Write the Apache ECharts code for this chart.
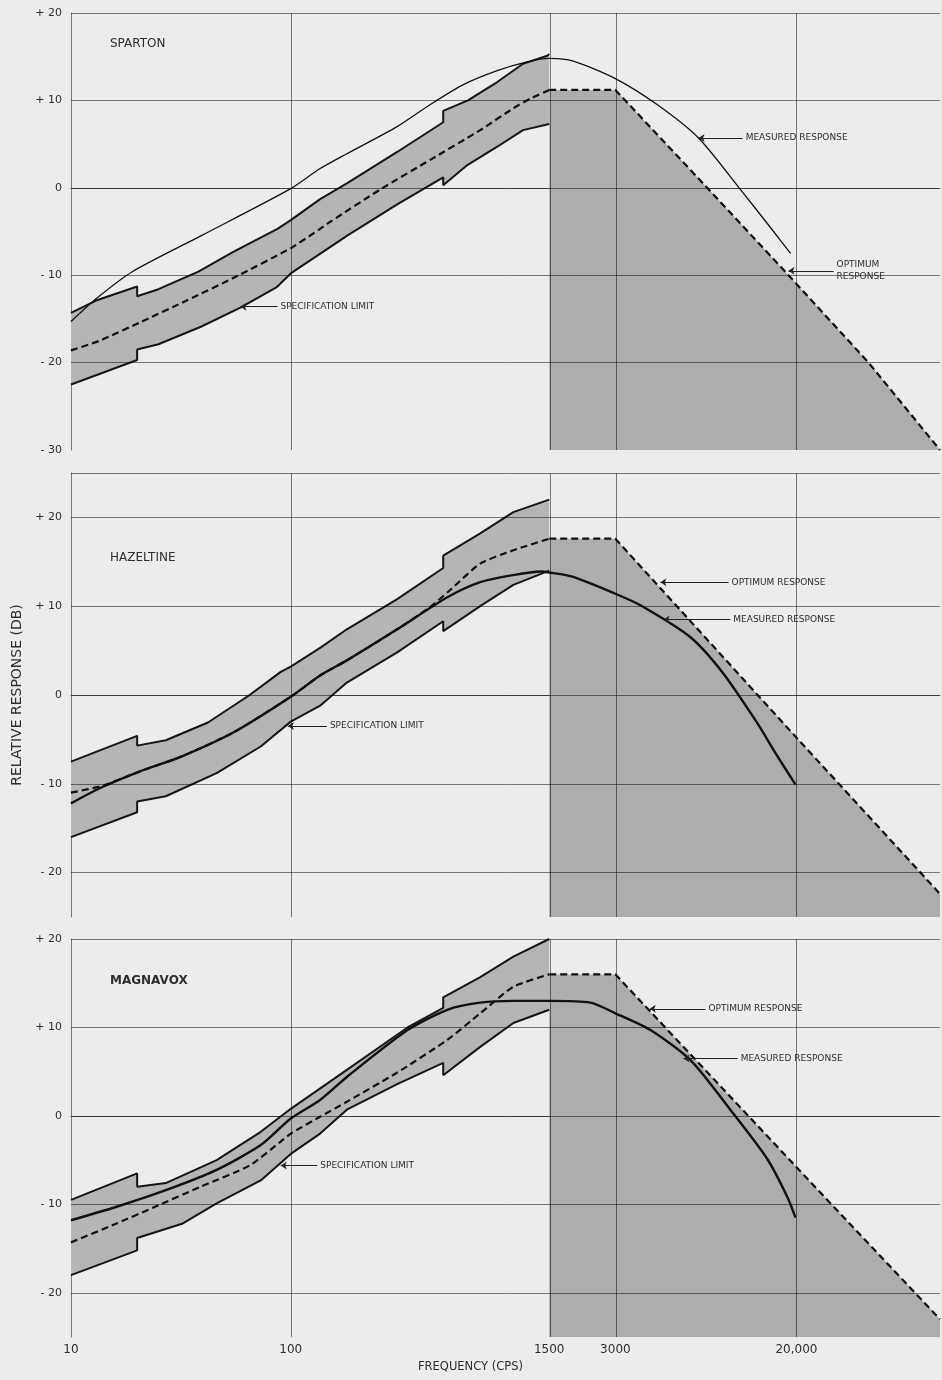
<!DOCTYPE html>
<html>
<head>
<meta charset="utf-8">
<title>Relative response vs frequency</title>
<script src="https://cdn.jsdelivr.net/npm/echarts@6/dist/echarts.min.js"></script>
<style>
  html, body { margin: 0; padding: 0; background: #ececec; }
  #main { width: 942px; height: 1380px; }
</style>
</head>
<body>
<div id="main"></div>
<script>
// frequency axis (cps, log scale)
var xMaxFreq = 90000;
var xGridFreq = [100, 1500, 3000, 20000];
var xLabelFreq = [10, 100, 1500, 3000, 20000];
var xLabelText = ['10', '100', '1500', '3000', '20,000'];

// horizontal grid lines (dB) per panel
var spartonLines = [-20, -10, 0, 10, 20];
var hazeltineLines = [-20, -10, 0, 10, 20, 25];
var magnavoxLines = [-20, -10, 0, 10, 20];

// [frequency, dB]  -- SPARTON
var spartonUpper = [[10, -14.3], [13, -12.9], [20, -11.3], [20, -12.4], [25, -11.6], [38, -9.6], [55, -7.3], [87, -4.7], [100, -3.7], [136, -1.3], [180, 0.5], [305, 4.1], [494, 7.5], [494, 8.8], [640, 10.0], [870, 12.1], [1140, 14.2], [1470, 15.1], [1500, 15.3]];
var spartonLower = [[10, -22.5], [20, -19.7], [20, -18.5], [25, -17.9], [39, -15.9], [59, -13.7], [86, -11.4], [100, -9.8], [180, -5.5], [305, -1.9], [494, 1.2], [494, 0.3], [636, 2.6], [870, 4.7], [1140, 6.6], [1500, 7.3]];
var spartonOptimum = [[10, -18.6], [13.5, -17.5], [20.6, -15.4], [33.6, -12.9], [55, -10.3], [100, -6.9], [136, -4.7], [151, -3.9], [255, -0.2], [431, 3.2], [728, 6.6], [1030, 9.1], [1230, 10.2], [1500, 11.2], [3000, 11.2], [7850, 0], [18400, -10], [42560, -20], [90000, -30]];
var spartonMeasured = [[10, -15.3], [13, -12.7], [19, -9.6], [39, -5.5], [100, -0.1], [136, 2.2], [180, 3.9], [305, 7.0], [430, 9.5], [610, 11.8], [870, 13.4], [1190, 14.4], [1500, 14.8], [1930, 14.5], [3000, 12.5], [4660, 9.5], [7170, 5.7], [11130, -0.2], [15740, -5.0], [18800, -7.5]];

// HAZELTINE
var hazeltineUpper = [[10, -7.5], [20, -4.6], [20, -5.7], [27, -5.1], [42, -3.1], [65, 0], [90, 2.6], [100, 3.2], [136, 5.3], [180, 7.4], [305, 10.8], [494, 14.3], [494, 15.7], [728, 18.2], [1030, 20.6], [1500, 22.0]];
var hazeltineLower = [[10, -16.0], [20, -13.2], [20, -12.0], [27, -11.4], [46, -8.8], [73, -5.8], [100, -3.0], [136, -1.2], [180, 1.4], [305, 4.8], [494, 8.3], [494, 7.2], [728, 10.0], [1030, 12.4], [1500, 14.0]];
var hazeltineOptimum = [[10, -11.0], [14, -10.2], [20.6, -8.6], [32, -6.9], [55, -4.2], [100, -0.2], [136, 2.2], [180, 3.9], [305, 7.4], [430, 9.9], [530, 11.8], [728, 14.8], [1030, 16.3], [1500, 17.6], [3000, 17.6], [20000, -4.8], [90000, -22.4]];
var hazeltineMeasured = [[10, -12.2], [13.5, -10.5], [20.6, -8.6], [32, -6.9], [55, -4.2], [100, -0.2], [136, 2.2], [180, 3.9], [305, 7.4], [516, 11.0], [728, 12.7], [1030, 13.5], [1370, 13.9], [1500, 13.8], [1930, 13.3], [3000, 11.4], [3900, 10.1], [6590, 6.5], [9310, 2.4], [13300, -3.2], [15740, -6.2], [19800, -10.1]];

// MAGNAVOX
var magnavoxUpper = [[10, -9.5], [20, -6.5], [20, -8.0], [27, -7.6], [46, -5.0], [73, -1.8], [100, 0.8], [180, 5.2], [340, 10.0], [494, 12.2], [494, 13.4], [728, 15.7], [1030, 18.0], [1500, 20.0]];
var magnavoxLower = [[10, -18.0], [20, -15.2], [20, -13.8], [32, -12.2], [46, -9.9], [73, -7.3], [100, -4.3], [136, -2.0], [180, 0.7], [305, 3.6], [494, 6.0], [494, 4.6], [728, 7.8], [1030, 10.5], [1500, 12.0]];
var magnavoxOptimum = [[10, -14.3], [16, -12.2], [24, -10.3], [39, -8.0], [65, -5.6], [90, -2.9], [100, -2.0], [136, -0.1], [180, 1.6], [305, 4.9], [516, 8.6], [728, 11.6], [1030, 14.6], [1500, 16.0], [3000, 16.0], [28600, -9.9], [90000, -23.0]];
var magnavoxMeasured = [[10, -11.8], [16, -10.3], [27, -8.4], [46, -6.1], [73, -3.3], [100, -0.3], [136, 1.8], [180, 4.4], [340, 9.7], [516, 12.0], [728, 12.8], [1030, 13.0], [1500, 13.0], [2310, 12.8], [3000, 11.6], [4330, 9.7], [6590, 6.3], [10000, 0.7], [14760, -4.9], [18200, -9.2], [19800, -11.5]];

// callouts: arrow tip on the curve, end of leader, text after it
var spartonNotes = [
    { text: 'MEASURED RESPONSE', tip: [7170, 5.7], end: [11380, 5.7] },
    { text: 'OPTIMUM\nRESPONSE', tip: [18400, -9.5], end: [29500, -9.5] },
    { text: 'SPECIFICATION LIMIT', tip: [59, -13.6], end: [87, -13.6] }
];
var hazeltineNotes = [
    { text: 'OPTIMUM RESPONSE', tip: [4810, 12.7], end: [9820, 12.7] },
    { text: 'MEASURED RESPONSE', tip: [4970, 8.5], end: [10000, 8.5] },
    { text: 'SPECIFICATION LIMIT', tip: [97, -3.5], end: [146, -3.5] }
];
var magnavoxNotes = [
    { text: 'OPTIMUM RESPONSE', tip: [4300, 12.1], end: [7710, 12.1] },
    { text: 'MEASURED RESPONSE', tip: [6120, 6.5], end: [10800, 6.5] },
    { text: 'SPECIFICATION LIMIT', tip: [90, -5.6], end: [132, -5.6] }
];

var FONT = 'DejaVu Sans';
var TEXT = '#2e2e2e';
var GRID_LINE = 'rgba(0,0,0,0.5)';
var BAND_FILL = '#b5b5b5';
var AREA_FILL = '#adadad';

var panels = [
    { name: 'SPARTON', nameTop: 38, top: 13, height: 437, yMin: -30, yMax: 20, yStep: 10,
      hLines: spartonLines, upper: spartonUpper, lower: spartonLower, optimum: spartonOptimum,
      measured: spartonMeasured, measuredWidth: 1.3, notes: spartonNotes },
    { name: 'HAZELTINE', nameTop: 552, top: 473, height: 444, yMin: -25, yMax: 25, yStep: 5,
      hLines: hazeltineLines, upper: hazeltineUpper, lower: hazeltineLower, optimum: hazeltineOptimum,
      measured: hazeltineMeasured, measuredWidth: 2.4, notes: hazeltineNotes, yName: 'RELATIVE RESPONSE (DB)' },
    { name: 'MAGNAVOX', nameTop: 975, top: 939, height: 398, yMin: -25, yMax: 20, yStep: 5,
      hLines: magnavoxLines, upper: magnavoxUpper, lower: magnavoxLower, optimum: magnavoxOptimum,
      measured: magnavoxMeasured, measuredWidth: 2.4, notes: magnavoxNotes, bold: true, last: true }
];

function lg(d) {
    return [Math.log10(d[0]), d[1]];
}

function xLabel(v) {
    for (var k = 0; k < xLabelFreq.length; k++) {
        if (Math.abs(Math.log10(xLabelFreq[k]) - v) < 1e-6) return xLabelText[k];
    }
    return '';
}

function yLabel(v) {
    if (v % 10 !== 0 || v > 20) return '';
    if (v > 0) return '+ ' + v;
    if (v < 0) return '- ' + (-v);
    return '0';
}

function lineSeries(i, data, z, style, smooth) {
    return {
        type: 'line',
        xAxisIndex: i,
        yAxisIndex: i,
        z: z,
        silent: true,
        symbol: 'none',
        smooth: smooth || false,
        data: data.map(lg),
        lineStyle: style
    };
}

var option = {
    backgroundColor: '#ececec',
    animation: false,
    textStyle: { fontFamily: FONT },
    grid: [],
    xAxis: [],
    yAxis: [],
    series: [],
    graphic: []
};

panels.forEach(function (p, i) {
    option.grid.push({ left: 71, right: 2, top: p.top, height: p.height });

    option.xAxis.push({
        type: 'value',
        gridIndex: i,
        min: 1,
        max: Math.log10(xMaxFreq),
        axisLine: { show: true, lineStyle: { color: '#7a7a7a', width: 1 } },
        axisTick: { show: false },
        splitLine: { show: false },
        axisLabel: p.last ? {
            show: true,
            customValues: xLabelFreq.map(function (f) { return Math.log10(f); }),
            formatter: xLabel,
            color: TEXT,
            fontSize: 12,
            fontFamily: FONT,
            margin: 7
        } : { show: false }
    });

    option.yAxis.push({
        type: 'value',
        gridIndex: i,
        min: p.yMin,
        max: p.yMax,
        interval: p.yStep,
        axisLine: { show: true, lineStyle: { color: '#7a7a7a', width: 1 } },
        axisTick: { show: false },
        splitLine: { show: false },
        axisLabel: { formatter: yLabel, color: TEXT, fontSize: 11, fontFamily: FONT, margin: 9 },
        name: p.yName || '',
        nameLocation: 'middle',
        nameGap: 46,
        nameRotate: 90,
        nameTextStyle: { fontSize: 14, color: TEXT, fontFamily: FONT }
    });

    // shaded specification band
    option.series.push({
        type: 'custom',
        xAxisIndex: i,
        yAxisIndex: i,
        z: 1,
        silent: true,
        data: [[1, 0]],
        renderItem: function (params, api) {
            var pts = p.upper.concat(p.lower.slice().reverse()).map(function (d) {
                return api.coord(lg(d));
            });
            return { type: 'polygon', shape: { points: pts }, style: { fill: BAND_FILL } };
        }
    });

    // shaded region under the optimum curve above 1500 cps
    var highPart = p.optimum.filter(function (d) { return d[0] >= 1500; });
    var lowPart = p.optimum.filter(function (d) { return d[0] <= 1500; });
    option.series.push({
        type: 'line',
        xAxisIndex: i,
        yAxisIndex: i,
        z: 1,
        silent: true,
        symbol: 'none',
        data: highPart.map(lg),
        lineStyle: { width: 0 },
        areaStyle: { color: AREA_FILL, opacity: 1, origin: 'start' }
    });

    // grid lines drawn over the shading
    option.series.push({
        type: 'line',
        xAxisIndex: i,
        yAxisIndex: i,
        z: 2,
        silent: true,
        data: [],
        markLine: {
            silent: true,
            symbol: 'none',
            animation: false,
            label: { show: false },
            lineStyle: { color: GRID_LINE, width: 1, type: 'solid' },
            data: xGridFreq.map(function (f) { return { xAxis: Math.log10(f) }; })
                .concat(p.hLines.map(function (v) { return { yAxis: v }; }))
        }
    });

    // band outlines
    option.series.push(lineSeries(i, p.upper, 3, { color: '#151515', width: 2 }));
    option.series.push(lineSeries(i, p.lower, 3, { color: '#151515', width: 2 }));

    // optimum response: curved part below 1500, straight segments above
    var dash = { color: '#111', width: 2.2, type: [7, 4] };
    option.series.push(lineSeries(i, lowPart, 4, dash, 0.2));
    option.series.push(lineSeries(i, highPart, 4, dash));

    // measured response
    option.series.push(lineSeries(i, p.measured, 4, { color: '#111', width: p.measuredWidth }, 0.25));

    // callouts
    option.series.push({
        type: 'line',
        xAxisIndex: i,
        yAxisIndex: i,
        z: 5,
        silent: true,
        data: [],
        markLine: {
            silent: true,
            animation: false,
            symbol: ['arrow', 'none'],
            symbolSize: 6,
            lineStyle: { color: '#222', width: 1, type: 'solid' },
            label: {
                show: true,
                position: 'end',
                distance: 3,
                formatter: '{b}',
                color: TEXT,
                fontSize: 9,
                fontFamily: FONT,
                lineHeight: 12
            },
            data: p.notes.map(function (n) {
                var first = { name: n.text, coord: lg(n.tip) };
                if (n.text.indexOf('\n') >= 0) {
                    first.label = { padding: [12, 0, 0, 0] };
                }
                return [first, { coord: lg(n.end) }];
            })
        }
    });

    option.graphic.push({
        type: 'text',
        left: 110,
        top: p.nameTop,
        style: {
            text: p.name,
            fill: TEXT,
            font: (p.bold ? 'bold ' : '') + '12px "DejaVu Sans"'
        }
    });
});

option.graphic.push({
    type: 'text',
    left: 418,
    top: 1361,
    style: { text: 'FREQUENCY (CPS)', fill: TEXT, font: '11.5px "DejaVu Sans"' }
});

var myChart = echarts.init(document.getElementById('main'));
myChart.setOption(option);
</script>
</body>
</html>
